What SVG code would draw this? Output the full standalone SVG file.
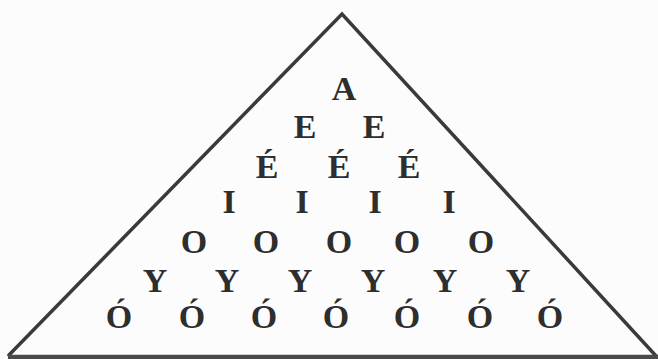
<svg xmlns="http://www.w3.org/2000/svg" width="658" height="359" viewBox="0 0 658 359">
<style>
.t{font-family:"Liberation Serif","Times New Roman",serif;font-size:34px;font-weight:bold;fill:#2e2e2e;text-anchor:middle}
.edge{fill:none;stroke:#3a3a3a;stroke-width:3.5;stroke-linecap:round;stroke-linejoin:miter}
</style>
<rect width="658" height="359" fill="#fcfcfc"/>
<g id="triangle">
<polyline class="edge" points="9,355 342,14 657,357"/>
<line x1="8" y1="357" x2="658" y2="357" stroke="#4a4a4a" stroke-width="4.5"/>
</g>
<g id="row1"><text class="t" x="344" y="100">A</text></g>
<g id="row2"><text class="t" x="305" y="138">E</text><text class="t" x="374" y="138">E</text></g>
<g id="row3"><text class="t" x="267" y="178">É</text><text class="t" x="339" y="178">É</text><text class="t" x="409" y="178">É</text></g>
<g id="row4"><text class="t" x="229" y="213">I</text><text class="t" x="302" y="213">I</text><text class="t" x="375" y="213">I</text><text class="t" x="449" y="213">I</text></g>
<g id="row5"><text class="t" x="194" y="253">O</text><text class="t" x="266" y="253">O</text><text class="t" x="339" y="253">O</text><text class="t" x="407" y="253">O</text><text class="t" x="481" y="253">O</text></g>
<g id="row6"><text class="t" x="155" y="292">Y</text><text class="t" x="227" y="292">Y</text><text class="t" x="300" y="292">Y</text><text class="t" x="373" y="292">Y</text><text class="t" x="445" y="292">Y</text><text class="t" x="518" y="292">Y</text></g>
<g id="row7"><text class="t" x="119" y="328">Ó</text><text class="t" x="192" y="328">Ó</text><text class="t" x="264" y="328">Ó</text><text class="t" x="336" y="328">Ó</text><text class="t" x="407" y="328">Ó</text><text class="t" x="480" y="328">Ó</text><text class="t" x="550" y="328">Ó</text></g>
</svg>
